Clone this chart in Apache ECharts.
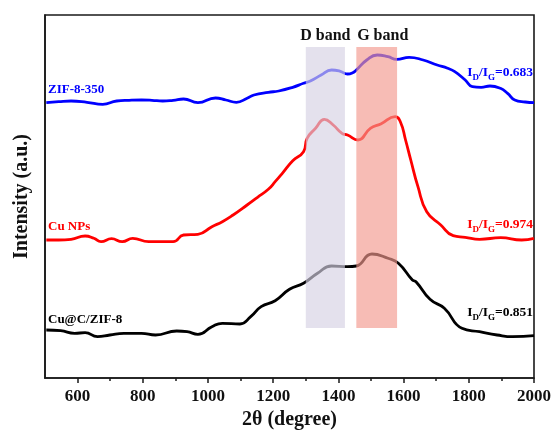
<!DOCTYPE html>
<html>
<head>
<meta charset="utf-8">
<script src="https://cdn.jsdelivr.net/npm/echarts@6/dist/echarts.min.js"></script>
<style>
html,body{margin:0;padding:0;background:#fff;}
#chart{width:554px;height:438px;}
</style>
</head>
<body>
<div id="chart"></div>
<script>
// Raman spectra, offset stacked (intensity in arbitrary units)
var zifX = [504,542,580,629,677,720,758,796,828,861,893,925,969,1023,1055,1087,1120,1141,1185,1217,1260,1293,1314,1347,1379,1406,1428,1444,1455,1487,1519,1552,1579,1617,1660,1703,1735,1757,1789,1811,1838,1865,1897,1919,1941,1973,2000];
var zifY = [275.3,276.3,277,275.7,273.7,277,277.7,278,277.7,277,277.7,279,275.3,280,278,275.7,279.7,283,285.7,287,290.7,294.7,297,303,308,306.7,304,305.3,308,318,323,321.3,318.7,320.7,318,313,309.7,306.3,298,291.3,290.7,292,289.7,284.7,278,276,275.3];

var cuX = [504,542,580,623,650,672,704,737,769,818,893,925,969,1012,1044,1077,1120,1152,1185,1206,1228,1260,1293,1304,1330,1357,1384,1411,1428,1460,1498,1530,1574,1590,1606,1622,1644,1671,1714,1752,1789,1833,1898,1962,2000];
var cuY = [138,138,138.7,142,139.7,136.3,139.3,136.3,139.7,136.3,136.3,143,143.7,151.3,156.3,163,173,180.7,188.7,196.3,204.7,217.3,226.3,239.7,249.7,258.7,253,244.7,243,238,249.7,254,261.3,256.3,238,218,191.3,166.3,153,142.3,140.7,138.7,140.3,138,139.7];

var cucX = [504,548,591,623,661,699,742,796,839,904,936,969,1012,1044,1098,1131,1163,1206,1250,1293,1336,1379,1428,1455,1503,1552,1584,1627,1638,1681,1725,1779,1833,1887,1935,2000];
var cucY = [48,47.3,44.7,45.3,41.3,43,44.7,44.7,43,47,46.3,43.7,51.3,54.7,54,61.3,71.3,77.3,88.7,94.7,104.7,112,111.3,112,124,119.7,114.7,98,96.3,78.7,69.7,49.7,46.3,43,41.3,42.3];

var seriesNames = ['ZIF-8-350', 'Cu NPs', 'Cu@C/ZIF-8'];
var seriesColors = ['#0000ff', '#ff0000', '#000000'];
var ratioTexts = ['0.683', '0.974', '0.851'];

var bandNames = ['D band', 'G band'];
var bandStart = [1300, 1455];
var bandEnd = [1420, 1580];
var bandLow = 50, bandHigh = 331;

var xTickLabels = [600,800,1000,1200,1400,1600,1800,2000];
var xMinorTicks = [700,900,1100,1300,1500,1700,1900];

function zip(xs, ys){
    var out = [];
    for (var i = 0; i < xs.length; i++) out.push([xs[i], ys[i]]);
    return out;
}

var FONT = '"Liberation Serif", "Times New Roman", serif';
var myChart = echarts.init(document.getElementById('chart'));

var lineData = [zip(zifX, zifY), zip(cuX, cuY), zip(cucX, cucY)];
var series = [];
for (var i = 0; i < 3; i++) {
    series.push({
        name: seriesNames[i],
        type: 'line',
        data: lineData[i],
        smooth: 0.5,
        showSymbol: false,
        z: 2,
        lineStyle: {color: seriesColors[i], width: 2.8},
        itemStyle: {color: seriesColors[i]}
    });
}
var bandColors = ['rgba(214,209,228,0.65)', 'rgba(242,152,142,0.65)'];
var bandOffsets = [[0, 0], [6, 0]];
series.push({
    type: 'line',
    data: [],
    markArea: {
        silent: true,
        z: 10,
        data: bandNames.map(function(n, k){
            return [{
                name: n,
                xAxis: bandStart[k],
                yAxis: bandLow,
                itemStyle: {color: bandColors[k]},
                label: {offset: bandOffsets[k]}
            }, {
                xAxis: bandEnd[k],
                yAxis: bandHigh
            }];
        }),
        label: {
            show: true,
            position: 'top',
            distance: 3,
            color: '#111',
            fontFamily: FONT,
            fontWeight: 'bold',
            fontSize: 16
        }
    }
});

// text labels next to each curve
var labelY = [90, 227, 320];
var ratioY = [73, 225, 313];
var graphics = [];
for (var j = 0; j < 3; j++) {
    graphics.push({
        type: 'text',
        x: 48, y: labelY[j],
        z: 20,
        style: {
            text: seriesNames[j],
            fill: seriesColors[j],
            font: 'bold 13px ' + FONT,
            align: 'left',
            verticalAlign: 'middle'
        }
    });
    graphics.push({
        type: 'text',
        x: 533, y: ratioY[j],
        z: 20,
        style: {
            text: '{n|I}{s|D}{n|/I}{s|G}{n|=' + ratioTexts[j] + '}',
            fill: seriesColors[j],
            align: 'right',
            verticalAlign: 'middle',
            rich: {
                n: {fontFamily: FONT, fontWeight: 'bold', fontSize: 13.5, lineHeight: 18, fill: seriesColors[j], color: seriesColors[j]},
                s: {fontFamily: FONT, fontWeight: 'bold', fontSize: 9, lineHeight: 9, verticalAlign: 'bottom', fill: seriesColors[j], color: seriesColors[j]}
            }
        }
    });
}

var option = {
    backgroundColor: '#fff',
    animation: false,
    grid: {
        left: 45, right: 18.5, top: 15, bottom: 60,
        show: true,
        borderColor: '#1a1a1a',
        borderWidth: 1.6
    },
    xAxis: [{
        type: 'value',
        min: 500, max: 2000,
        position: 'bottom',
        name: '2θ (degree)',
        nameLocation: 'middle',
        nameGap: 30,
        nameTextStyle: {fontFamily: FONT, fontWeight: 'bold', fontSize: 20, color: '#111'},
        axisLine: {show: true, onZero: false, lineStyle: {color: '#1a1a1a', width: 1.6}},
        axisTick: {show: true, customValues: xTickLabels, length: 5, lineStyle: {color: '#1a1a1a', width: 1.5}},
        axisLabel: {
            customValues: xTickLabels, margin: 10,
            formatter: function(v){ return String(v); },
            fontFamily: FONT, fontWeight: 'bold', fontSize: 17, color: '#111'
        },
        splitLine: {show: false}
    }, {
        type: 'value',
        min: 500, max: 2000,
        position: 'bottom',
        axisLine: {show: false, onZero: false},
        axisTick: {show: true, customValues: xMinorTicks, length: 3, lineStyle: {color: '#1a1a1a', width: 1.5}},
        axisLabel: {show: false},
        splitLine: {show: false}
    }],
    yAxis: {
        type: 'value',
        min: 0, max: 363,
        name: 'Intensity (a.u.)',
        nameLocation: 'middle',
        nameGap: 13,
        nameTextStyle: {fontFamily: FONT, fontWeight: 'bold', fontSize: 20, color: '#111'},
        axisLine: {show: true, lineStyle: {color: '#1a1a1a', width: 1.6}},
        axisTick: {show: false},
        axisLabel: {show: false},
        splitLine: {show: false}
    },
    series: series,
    graphic: graphics
};
myChart.setOption(option);
</script>
</body>
</html>
